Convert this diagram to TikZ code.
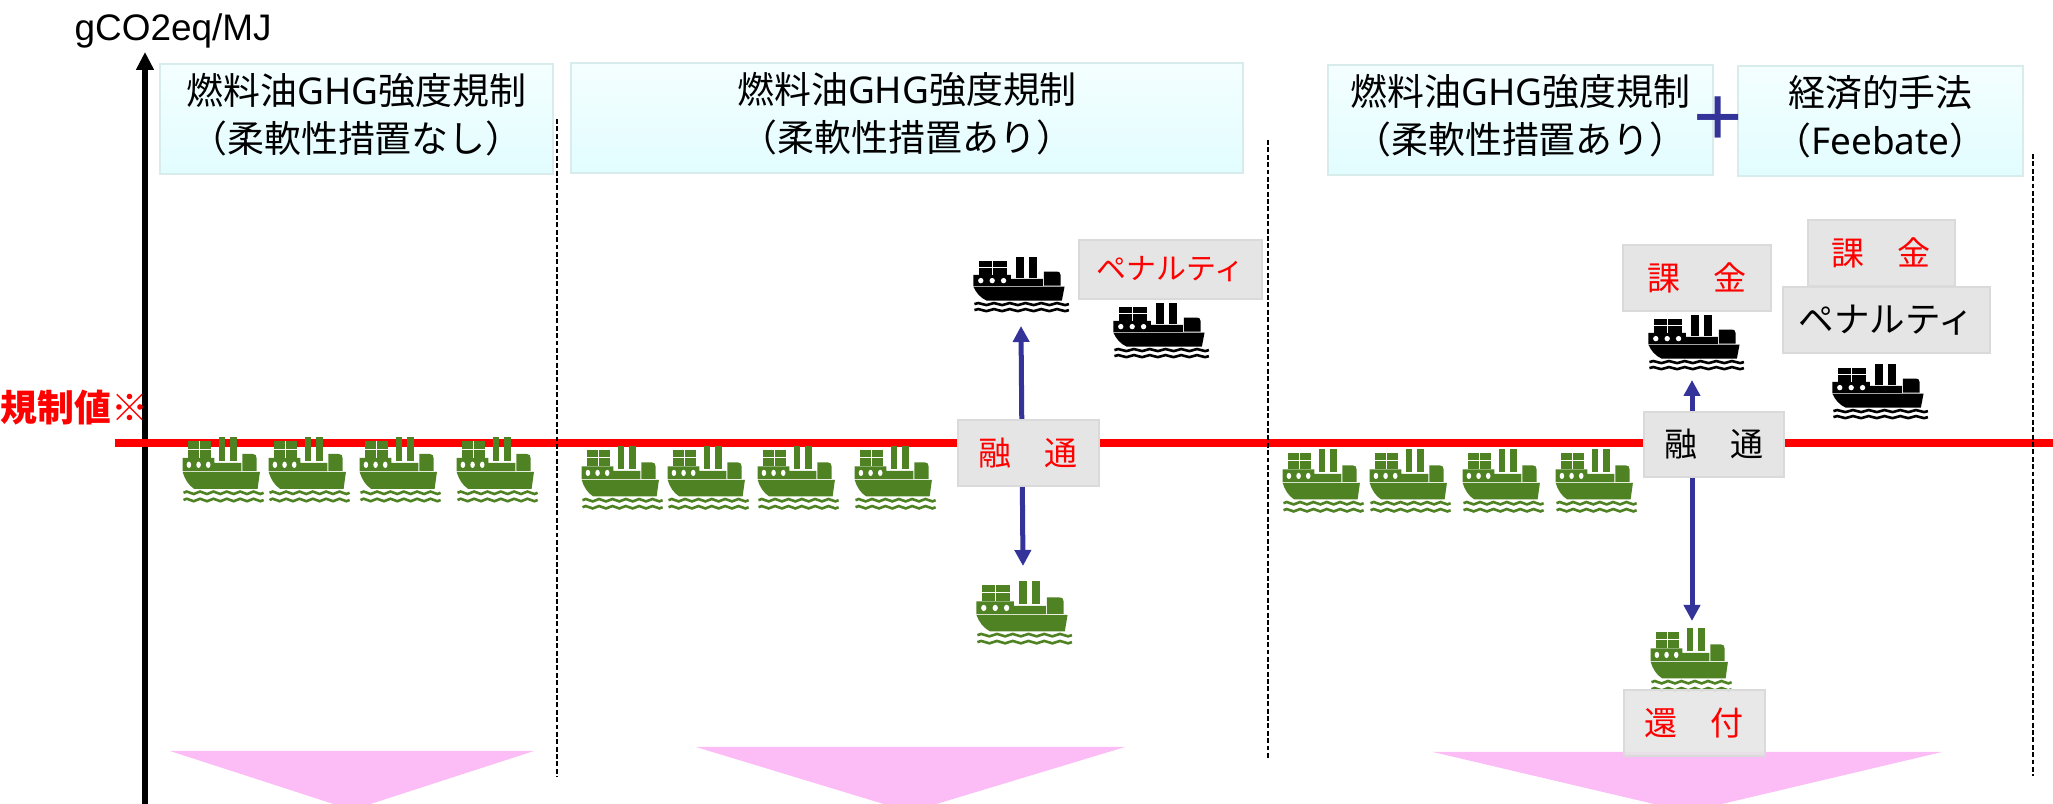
\documentclass[tikz,border=0pt]{standalone}
\usepackage{fontspec}
\setmainfont{Liberation Sans}
\newfontfamily\cjk{Noto Sans CJK JP}
\newfontfamily\wide{Noto Sans}
\usetikzlibrary{arrows.meta,positioning}
\definecolor{shipgreen}{HTML}{4F8223}
\definecolor{tagblue}{HTML}{333399}
\definecolor{boxfill}{HTML}{E5E5E5}
\definecolor{boxline}{HTML}{DADADA}
\definecolor{titletop}{HTML}{F4FEFF}
\definecolor{titlefoot}{HTML}{E2FDFF}
\definecolor{titleline}{HTML}{D8ECEC}
\definecolor{drop}{HTML}{FCBCF5}
\tikzstyle{title}=[draw=titleline,top color=titletop,bottom color=titlefoot,line width=.5pt,align=center,inner sep=0pt,font=\fontsize{10.5}{13.5}\selectfont,anchor=north west]
\tikzstyle{tag}=[draw=boxline,fill=boxfill,line width=.5pt,inner sep=0pt,font=\fontsize{9.4}{12}\selectfont,anchor=north west]
\tikzstyle{level}=[red,line width=.08cm]
\tikzstyle{divider}=[line width=.5pt,dash pattern=on 1.4pt off .7pt]
\tikzstyle{flow}=[{Triangle[length=.16cm,width=.16cm]}-{Triangle[length=.16cm,width=.16cm]},tagblue,line width=.05cm]
\tikzstyle{drophead}=[fill=drop,draw=none]
% one ship, drawn 285 wide and 166 high round its centre
\tikzset{
  ship/.pic={
    \fill (-125,-73) rectangle (-42,-30);
    \fill (-15,-83) rectangle (8,-22);
    \fill (25,-83) rectangle (48,-22);
    \fill (-142,-30) -- (-30,-30) -- (-30,-18) -- (65,-18) -- (65,3) -- (-142,3) -- cycle;
    \fill (68,-40) -- (105,-40) .. controls (115,-40) and (118,-36) .. (118,-30) -- (118,2) -- (68,2) -- cycle;
    \fill (-142,5) -- (130,5) -- (122,47) -- (-102,47) .. controls (-122,38) and (-135,22) .. (-142,5) -- cycle;
    \fill[white] (-120,-13) circle (8) (-86,-13) circle (8) (-52,-13) circle (8);
    \draw[white,line width=.25pt] (-125,-52) -- (-42,-52) (-84,-73) -- (-84,-30);
    \foreach \w in {57,75}
      \draw[line width=.026cm] (-139,\w) \foreach \i in {0,...,5}{ .. controls (-139+47*\i+14,\w-11) and (-139+47*\i+33,\w+11) .. (-139+47*\i+47,\w)};
  }
}
\begin{document}
\begin{tikzpicture}[x=.01cm,y=-.01cm,>=stealth]
  \useasboundingbox (0,0) rectangle (2053,804);

  \fill[drophead] (170,751) -- (534,751) -- (352,810) -- cycle;
  \fill[drophead] (696,747) -- (1125,747) -- (910,812) -- cycle;
  \fill[drophead] (1433,752) -- (1942,752) -- (1688,812) -- cycle;

  \coordinate (axisfoot) at (145,804);
  \coordinate (axistip) at (145,52);
  \draw[-{Triangle[length=.18cm,width=.17cm]},line width=.06cm] (axisfoot) -- (axistip);

  \coordinate (base) at (115,443);
  \coordinate (baseend) at (2053,443);
  \draw[level] (base) -- (baseend);

  \coordinate (d1top) at (557,119);
  \coordinate (d1foot) at (557,777);
  \coordinate (d2top) at (1268,140);
  \coordinate (d2foot) at (1268,760);
  \coordinate (d3top) at (2033,154);
  \coordinate (d3foot) at (2033,776);
  \draw[divider] (d1top) -- (d1foot);
  \draw[divider] (d2top) -- (d2foot);
  \draw[divider] (d3top) -- (d3foot);

  \node[anchor=base west,font=\fontsize{10.5}{12}\selectfont,inner sep=0pt] (unit) at (74,41) {gCO2eq/MJ};
  \node[anchor=west,red,font=\bfseries\fontsize{10.5}{12}\selectfont,inner sep=0pt] (limit) at (0,408) {\cjk 規制値※};

  \node[title,minimum width=3.93cm,minimum height=1.1cm] (t1) at (159,63) {\begin{tabular}{@{}c@{}}{\cjk 燃料油}{\wide GHG}{\cjk 強度規制}\\{\cjk （柔軟性措置なし）}\end{tabular}};
  \node[title,minimum width=6.72cm,minimum height=1.1cm] (t2) at (570,62) {\begin{tabular}{@{}c@{}}{\cjk 燃料油}{\wide GHG}{\cjk 強度規制}\\{\cjk （柔軟性措置あり）}\end{tabular}};
  \node[title,minimum width=3.85cm,minimum height=1.1cm] (t3) at (1327,64) {\begin{tabular}{@{}c@{}}{\cjk 燃料油}{\wide GHG}{\cjk 強度規制}\\{\cjk （柔軟性措置あり）}\end{tabular}};
  \node[title,minimum width=2.85cm,minimum height=1.1cm] (t4) at (1737,65) {\begin{tabular}{@{}c@{}}{\cjk 経済的手法}\\{\cjk （}{\wide Feebate}{\cjk ）}\end{tabular}};
  \node[tagblue,font=\fontsize{24}{24}\selectfont,inner sep=0pt] (plus) at (1718,121) {+};

  \foreach \x in {223,309,400,497}
    \pic[shipgreen,xscale=.284,yscale=.4] at (\x,470) {ship};
  \foreach \x in {622,708,798,895}
    \pic[shipgreen,xscale=.284,yscale=.39] at (\x,478) {ship};
  \foreach \x in {1323,1410,1503,1596}
    \pic[shipgreen,xscale=.284,yscale=.39] at (\x,481) {ship};
  \pic[shipgreen,scale=.335,yscale=1.16] at (1024,613) {ship};
  \pic[shipgreen,xscale=.284,yscale=.39] at (1691,660) {ship};

  \pic[black,scale=.335] at (1021,285) {ship};
  \pic[black,scale=.335] at (1161,331) {ship};
  \pic[black,scale=.335] at (1696,343) {ship};
  \pic[black,scale=.335] at (1880,392) {ship};

  \coordinate (f1up) at (1021,326);
  \coordinate (f1down) at (1023,566);
  \coordinate (f2up) at (1692,380);
  \coordinate (f2down) at (1692,621);
  \draw[flow] (f1up) -- (f1down);
  \draw[flow] (f2up) -- (f2down);

  \node[tag,text=red,font=\fontsize{8.5}{11}\selectfont,minimum width=1.83cm,minimum height=.59cm] (p1) at (1078,239) {\cjk ペナルティ};
  \node[tag,text=red,minimum width=1.41cm,minimum height=.66cm] (y1) at (957,419) {\cjk 融　通};
  \node[tag,text=red,minimum width=1.48cm,minimum height=.66cm] (k1) at (1622,244) {\cjk 課　金};
  \node[tag,text=red,minimum width=1.47cm,minimum height=.66cm] (k2) at (1807,219) {\cjk 課　金};
  \node[tag,font=\fontsize{10.1}{12}\selectfont,minimum width=2.07cm,minimum height=.66cm] (p2) at (1782,286) {\cjk ペナルティ};
  \node[tag,minimum width=1.40cm,minimum height=.65cm] (y2) at (1643,411) {\cjk 融　通};
  \node[tag,text=red,fill opacity=.88,text opacity=1,minimum width=1.41cm,minimum height=.66cm] (r1) at (1623,689) {\cjk 還　付};
\end{tikzpicture}
\end{document}
